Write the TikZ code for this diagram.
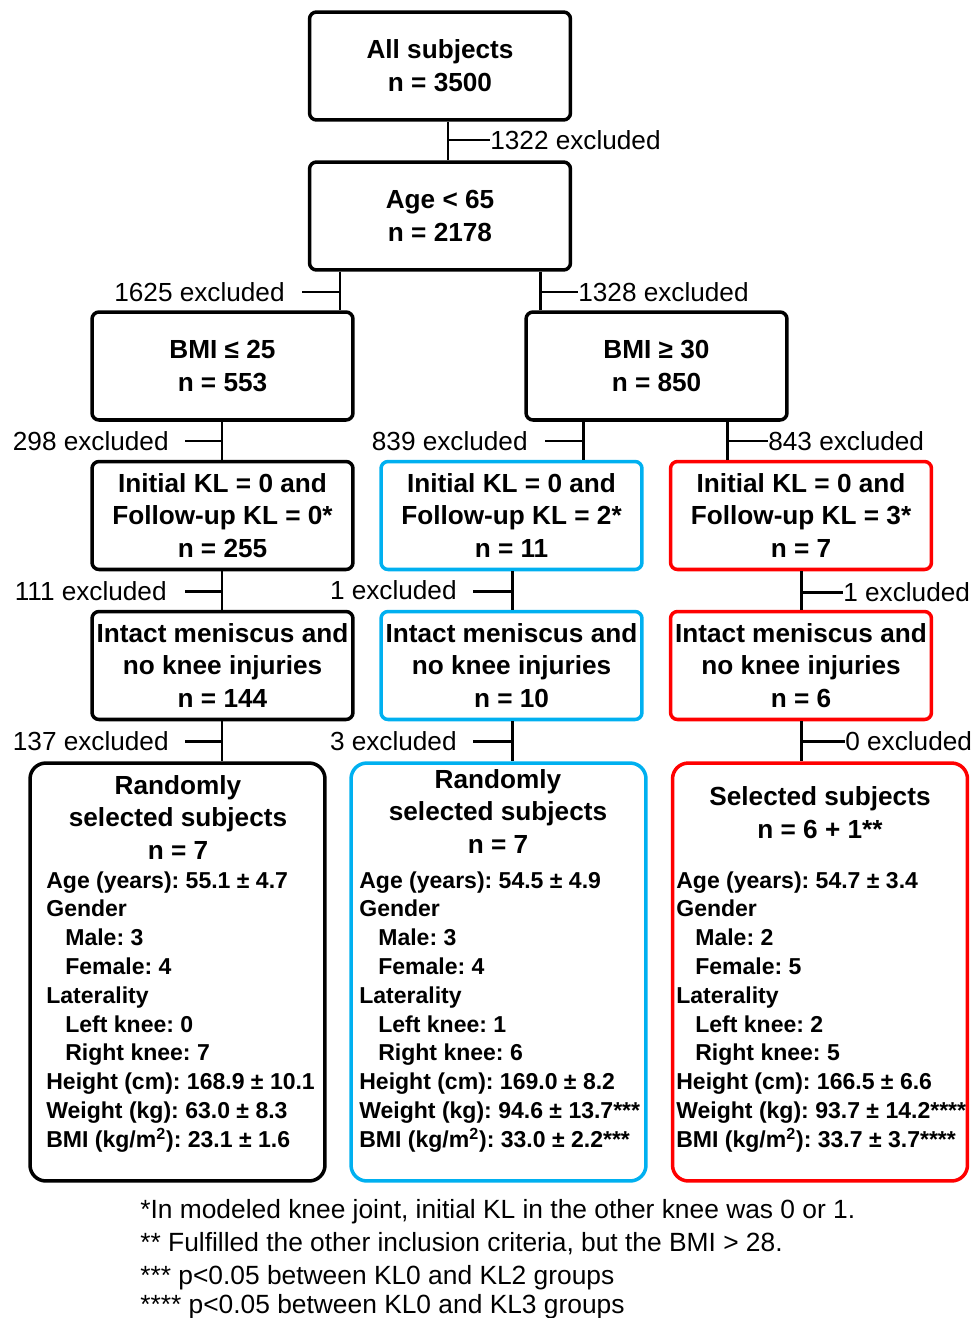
\documentclass[tikz,border=0pt]{standalone}
\usepackage{fontspec}
\setmainfont{Liberation Sans}
\usetikzlibrary{positioning}
\frenchspacing

\definecolor{kltwo}{RGB}{0,176,240}
\definecolor{klthree}{RGB}{255,0,0}
\newcommand{\bigfs}{\fontsize{14.9}{18.7}\selectfont}
\newcommand{\bodyfs}{\fontsize{13.1}{16.3}\selectfont}
\newcommand{\notefs}{\fontsize{15}{18.7}\selectfont}
\newcommand{\ind}{\hspace*{0.38cm}}

\tikzset{
	stepbox/.style={draw, line width=2pt, rounded corners=4pt, minimum width=5.22cm,
		minimum height=2.16cm, align=center, inner sep=0pt, font=\bigfs\bfseries},
	bigbox/.style={draw, line width=2pt, rounded corners=9pt, minimum width=5.9cm,
		minimum height=8.36cm, inner sep=0pt},
	head/.style={align=center, inner sep=0pt, font=\bigfs\bfseries},
	body/.style={inner sep=0pt, font=\bodyfs\bfseries, anchor=base west},
	excl/.style={inner sep=0pt, font=\bigfs},
	link/.style={line width=1.7pt},
}

\begin{document}
\begin{tikzpicture}[x=0.02cm, y=-0.02cm]
	\useasboundingbox (0,0) rectangle (974,1318);

	% selection steps
	\node[stepbox] (all) at (440,66) {All subjects\\n = 3500};
	\node[stepbox] (age) at (440,216) {Age < 65\\n = 2178};
	\node[stepbox] (bmiL) at (222.5,366) {BMI ≤ 25\\n = 553};
	\node[stepbox] (bmiH) at (656.5,366) {BMI ≥ 30\\n = 850};

	\node[stepbox] (kl0) at (222.5,515.5) {Initial KL = 0 and\\Follow-up KL = 0*\\n = 255};
	\node[stepbox, draw=kltwo] (kl2) at (511.5,515.5) {Initial KL = 0 and\\Follow-up KL = 2*\\n = 11};
	\node[stepbox, draw=klthree] (kl3) at (801,515.5) {Initial KL = 0 and\\Follow-up KL = 3*\\n = 7};

	\node[stepbox] (men0) at (222.5,665.5) {Intact meniscus and\\no knee injuries\\n = 144};
	\node[stepbox, draw=kltwo] (men2) at (511.5,665.5) {Intact meniscus and\\no knee injuries\\n = 10};
	\node[stepbox, draw=klthree] (men3) at (801,665.5) {Intact meniscus and\\no knee injuries\\n = 6};

	% final groups
	\node[bigbox] (sel0) at (177.5,972) {};
	\node[bigbox, draw=kltwo] (sel2) at (498.5,972) {};
	\node[bigbox, draw=klthree] (sel3) at (820,972) {};

	\node[head] (h0) at (178,817.5) {Randomly\\selected subjects\\n = 7};
	\node[head] (h2) at (498,811.5) {Randomly\\selected subjects\\n = 7};
	\node[head] (h3) at (820,813) {Selected subjects\\n = 6 + 1**};

	\foreach \txt [count=\i] in {Age (years): 55.1 ± 4.7, Gender, \ind Male: 3, \ind Female: 4,
		Laterality, \ind Left knee: 0, \ind Right knee: 7, Height (cm): 168.9 ± 10.1,
		Weight (kg): 63.0 ± 8.3, BMI (kg/m\textsuperscript{2}): 23.1 ± 1.6}
		\node[body] (a\i) at (46,859.2+28.8*\i) {\txt};

	\foreach \txt [count=\i] in {Age (years): 54.5 ± 4.9, Gender, \ind Male: 3, \ind Female: 4,
		Laterality, \ind Left knee: 1, \ind Right knee: 6, Height (cm): 169.0 ± 8.2,
		Weight (kg): 94.6 ± 13.7***, BMI (kg/m\textsuperscript{2}): 33.0 ± 2.2***}
		\node[body] (b\i) at (359,859.2+28.8*\i) {\txt};

	\foreach \txt [count=\i] in {Age (years): 54.7 ± 3.4, Gender, \ind Male: 2, \ind Female: 5,
		Laterality, \ind Left knee: 2, \ind Right knee: 5, Height (cm): 166.5 ± 6.6,
		Weight (kg): 93.7 ± 14.2****, BMI (kg/m\textsuperscript{2}): 33.7 ± 3.7****}
		\node[body] (c\i) at (676,859.2+28.8*\i) {\txt};

	% exclusion labels
	\node[excl, anchor=base west] (x1) at (490,149.5) {1322 excluded};
	\node[excl, anchor=base east] (x2) at (285,301.5) {1625 excluded};
	\node[excl, anchor=base west] (x3) at (578,301.5) {1328 excluded};
	\node[excl, anchor=base east] (x4) at (169,450.5) {298 excluded};
	\node[excl, anchor=base east] (x5) at (528,450.5) {839 excluded};
	\node[excl, anchor=base west] (x6) at (768,450.5) {843 excluded};
	\node[excl, anchor=base east] (x7) at (167,600.5) {111 excluded};
	\node[excl, anchor=base east] (x8) at (457,599.5) {1 excluded};
	\node[excl, anchor=base west] (x9) at (843,601.5) {1 excluded};
	\node[excl, anchor=base east] (x10) at (169,750.5) {137 excluded};
	\node[excl, anchor=base east] (x11) at (457,750.5) {3 excluded};
	\node[excl, anchor=base west] (x12) at (845,750.5) {0 excluded};

	% connectors
	\coordinate (c1) at (448,140);
	\draw[link] (all.south -| c1) -- (age.north -| c1);
	\draw[link] (c1) -- (c1 -| x1.west);

	\coordinate (c2) at (340,292);
	\coordinate (e2) at (302,292);
	\draw[link] (age.south -| c2) -- (bmiL.north -| c2);
	\draw[link] (c2) -- (e2);
	\coordinate (c3) at (540,292);
	\draw[link] (age.south -| c3) -- (bmiH.north -| c3);
	\draw[link] (c3) -- (c3 -| x3.west);

	\coordinate (c4) at (222,441);
	\coordinate (e4) at (185,441);
	\draw[link] (bmiL.south -| c4) -- (kl0.north -| c4);
	\draw[link] (c4) -- (e4);
	\coordinate (c5) at (583,441);
	\coordinate (e5) at (545,441);
	\draw[link] (bmiH.south -| c5) -- (kl2.north -| c5);
	\draw[link] (c5) -- (e5);
	\coordinate (c6) at (727,441);
	\draw[link] (bmiH.south -| c6) -- (kl3.north -| c6);
	\draw[link] (c6) -- (c6 -| x6.west);

	\coordinate (c7) at (222,591);
	\coordinate (e7) at (185,591);
	\draw[link] (kl0.south -| c7) -- (men0.north -| c7);
	\draw[link] (c7) -- (e7);
	\coordinate (c8) at (512,591);
	\coordinate (e8) at (473,591);
	\draw[link] (kl2.south -| c8) -- (men2.north -| c8);
	\draw[link] (c8) -- (e8);
	\coordinate (c9) at (801,592);
	\draw[link] (kl3.south -| c9) -- (men3.north -| c9);
	\draw[link] (c9) -- (c9 -| x9.west);

	\coordinate (c10) at (222,741);
	\coordinate (e10) at (185,741);
	\draw[link] (men0.south -| c10) -- (sel0.north -| c10);
	\draw[link] (c10) -- (e10);
	\coordinate (c11) at (512,741);
	\coordinate (e11) at (473,741);
	\draw[link] (men2.south -| c11) -- (sel2.north -| c11);
	\draw[link] (c11) -- (e11);
	\coordinate (c12) at (801,741);
	\draw[link] (men3.south -| c12) -- (sel3.north -| c12);
	\draw[link] (c12) -- (c12 -| x12.west);

	% footnotes
	\node[excl, anchor=base west, font=\notefs] (n1) at (140,1218) {*In modeled knee joint, initial KL in the other knee was 0 or 1.};
	\node[excl, anchor=base west, font=\notefs] (n2) at (140,1251) {** Fulfilled the other inclusion criteria, but the BMI > 28.};
	\node[excl, anchor=base west, font=\notefs] (n3) at (140,1284) {*** p<0.05 between KL0 and KL2 groups};
	\node[excl, anchor=base west, font=\notefs] (n4) at (140,1313) {**** p<0.05 between KL0 and KL3 groups};
\end{tikzpicture}
\end{document}
